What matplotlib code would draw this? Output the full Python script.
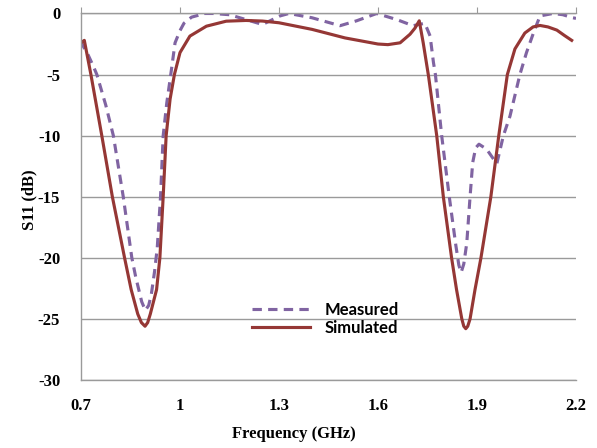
import matplotlib
matplotlib.use("Agg")
import matplotlib.pyplot as plt

# S11 readings (GHz, dB)
meas_f = [0.700, 0.705, 0.720, 0.737, 0.748, 0.775, 0.798, 0.828, 0.854, 0.866,
          0.884, 0.895, 0.905, 0.913, 0.923, 0.931, 0.941, 0.949, 0.960, 0.972,
          0.985, 1.000, 1.012, 1.035, 1.055, 1.070, 1.100, 1.150, 1.200, 1.250,
          1.303, 1.330, 1.400, 1.485, 1.535, 1.596, 1.657, 1.706, 1.742, 1.758,
          1.768, 1.774, 1.793, 1.816, 1.836, 1.845, 1.852, 1.860, 1.869, 1.879,
          1.887, 1.896, 1.906, 1.929, 1.960, 1.980, 2.000, 2.030, 2.050, 2.071,
          2.091, 2.130, 2.160, 2.190, 2.200]
meas_db = [-2.2, -2.6, -3.3, -4.3, -5.0, -7.5, -10.0, -15.0, -20.0, -21.6,
           -23.6, -24.3, -23.9, -23.0, -21.1, -19.2, -15.0, -10.0, -7.3, -5.0,
           -2.4, -1.4, -0.8, -0.3, -0.15, 0.0, 0.0, -0.1, -0.5, -0.9,
           -0.2, 0.0, -0.35, -1.0, -0.6, 0.0, -0.5, -1.0, -0.8, -1.85,
           -4.0, -5.0, -10.0, -15.0, -19.0, -20.6, -21.2, -20.5, -18.8, -15.0,
           -12.2, -11.0, -10.7, -11.1, -12.3, -10.0, -8.4, -5.0, -3.2, -1.6,
           -0.2, 0.0, -0.1, -0.35, -0.4]

sim_f = [0.700, 0.710, 0.730, 0.763, 0.795, 0.832, 0.852, 0.872, 0.883, 0.894,
         0.902, 0.910, 0.929, 0.939, 0.944, 0.949, 0.958, 0.970, 0.983, 1.000,
         1.030, 1.080, 1.140, 1.200, 1.250, 1.300, 1.400, 1.500, 1.600, 1.630,
         1.667, 1.697, 1.712, 1.725, 1.737, 1.753, 1.778, 1.798, 1.823, 1.838,
         1.854, 1.860, 1.866, 1.872, 1.879, 1.894, 1.912, 1.942, 1.966, 1.992,
         2.015, 2.045, 2.070, 2.091, 2.115, 2.142, 2.165, 2.187]
sim_db = [-2.4, -2.2, -5.0, -10.0, -15.0, -20.0, -22.6, -24.6, -25.3, -25.6,
          -25.3, -24.6, -22.6, -20.0, -17.5, -15.0, -10.0, -7.0, -5.0, -3.2,
          -1.85, -1.04, -0.63, -0.57, -0.62, -0.76, -1.3, -2.0, -2.5, -2.55,
          -2.4, -1.7, -1.2, -0.6, -2.4, -5.1, -10.0, -15.0, -20.0, -22.6,
          -25.0, -25.6, -25.8, -25.6, -25.0, -22.6, -20.0, -15.0, -10.0, -5.0,
          -2.9, -1.6, -1.1, -0.98, -1.1, -1.36, -1.8, -2.2]

x_ticks = [0.7, 1.0, 1.3, 1.6, 1.9, 2.2]
x_labels = ["0.7", "1", "1.3", "1.6", "1.9", "2.2"]
y_ticks = [0, -5, -10, -15, -20, -25, -30]

grey = "#9a9a9a"
tick_font = {"family": "Liberation Serif", "weight": "bold", "size": 12}

fig = plt.figure(figsize=(5.97, 4.48), dpi=100)
ax = fig.add_axes([0.1357, 0.1518, 0.8291, 0.8181])

ax.plot(meas_f, meas_db, color="#8064A2", lw=2.25, dashes=(3, 2), label="Measured")
ax.plot(sim_f, sim_db, color="#953735", lw=2.25, label="Simulated")

ax.set_xlim(0.7, 2.2)
ax.set_ylim(-30, 0)
ax.set_xticks(x_ticks)
ax.set_xticklabels(x_labels, fontdict=tick_font)
ax.set_yticks(y_ticks)
ax.set_yticklabels([str(v) for v in y_ticks], fontdict=tick_font)

ax.tick_params(axis="x", top=True, bottom=False, labeltop=False, labelbottom=True,
               direction="out", length=4, color=grey, pad=9)
ax.tick_params(axis="y", length=0, pad=15)
ax.grid(axis="y", color=grey, lw=1)
for side in ["left", "top", "bottom"]:
    ax.spines[side].set_color(grey)
    ax.spines[side].set_linewidth(1)
ax.spines["right"].set_visible(False)

ax.legend(loc="center left", bbox_to_anchor=(0.331, 0.166), frameon=False,
          prop={"family": "Lato", "weight": "bold", "size": 12},
          handlelength=3.5, handletextpad=0.9, labelspacing=0.1, borderaxespad=0)

fig.text(29 / 597, 1 - 200 / 448, "S11 (dB)", rotation=90, ha="center", va="center",
         family="Liberation Serif", weight="bold", size=12)
fig.text(294 / 597, 1 - 434 / 448, "Frequency (GHz)", ha="center", va="center",
         family="Liberation Serif", weight="bold", size=12)

fig.savefig("out.png", dpi=100)
